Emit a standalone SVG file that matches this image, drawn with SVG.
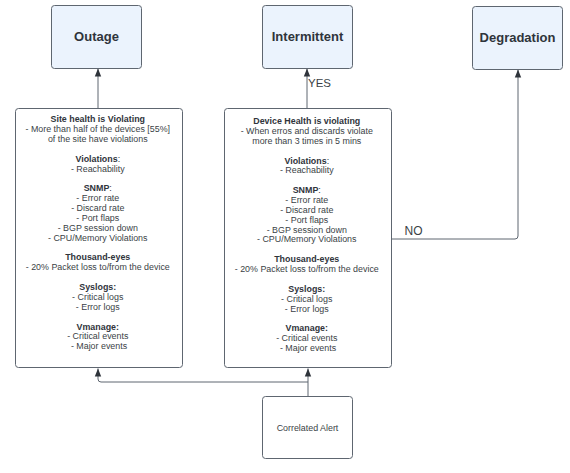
<svg xmlns="http://www.w3.org/2000/svg" width="570" height="473" viewBox="0 0 570 473">
<style>
.bg{fill:#ffffff}
.state{fill:#ebf3fd;stroke:#5e6670;stroke-width:1}
.card{fill:#ffffff;stroke:#5e6670;stroke-width:1}
.ttl{font-family:"Liberation Sans",Arial,sans-serif;font-size:13px;font-weight:bold;fill:#2f343b;text-anchor:middle}
.t{font-family:"Liberation Sans",Arial,sans-serif;font-size:8.9px;fill:#3a3f46;text-anchor:middle}
.b{font-weight:bold;fill:#2f343b}
.n{font-weight:normal}
.lbl{font-family:"Liberation Sans",Arial,sans-serif;fill:#3a3f46}
.edge{fill:none;stroke:#5e6670;stroke-width:1}
</style>
<defs>
<marker id="arr" markerUnits="userSpaceOnUse" markerWidth="9" markerHeight="8" viewBox="0 0 9 8" refX="8.5" refY="4" orient="auto">
<path d="M8.5,4 L0.5,0.8 L0.5,7.2 Z" fill="#2f343b"/>
</marker>
</defs>
<rect class="bg" x="0" y="0" width="570" height="473"/>

<g id="connectors">
<path class="edge" d="M98,108 L98,68.5" marker-end="url(#arr)"/>
<path class="edge" d="M307,108 L307,68.5" marker-end="url(#arr)"/>
<path class="edge" d="M391,239 L515,239 Q518,239 518,236 L518,69.5" marker-end="url(#arr)"/>
<path class="edge" d="M308,396 L308,368.5" marker-end="url(#arr)"/>
<path class="edge" d="M308,382 L101,382 Q98,382 98,379 L98,368.5" marker-end="url(#arr)"/>
<text class="lbl" x="308" y="87" font-size="11.5">YES</text>
<text class="lbl" x="404.5" y="234.5" font-size="12">NO</text>
</g>

<g id="outage">
<rect class="state" x="51.5" y="5.5" width="90" height="63" rx="3"/>
<text class="ttl" x="96.5" y="40.5">Outage</text>
</g>

<g id="intermittent">
<rect class="state" x="262.5" y="5.5" width="90" height="63" rx="3"/>
<text class="ttl" x="307.5" y="40.5" font-size="12.6">Intermittent</text>
</g>

<g id="degradation">
<rect class="state" x="472.5" y="6.5" width="90" height="63" rx="3"/>
<text class="ttl" x="517.5" y="41.5" font-size="12.6">Degradation</text>
</g>

<g id="site-health">
<rect class="card" x="15.5" y="108.5" width="167" height="259" rx="3"/>
<text class="t" x="99">
<tspan x="99" y="122.3" class="b">Site health is Violating</tspan>
<tspan x="99" y="132.2">- More than half of the devices [55%]</tspan>
<tspan x="99" y="142.0">of the site have violations</tspan>
<tspan x="99" y="161.8" class="b">Violations<tspan class="n">:</tspan></tspan>
<tspan x="99" y="171.6">- Reachability</tspan>
<tspan x="99" y="191.4" class="b">SNMP<tspan class="n">:</tspan></tspan>
<tspan x="99" y="201.2">- Error rate</tspan>
<tspan x="99" y="211.1">- Discard rate</tspan>
<tspan x="99" y="221.0">- Port flaps</tspan>
<tspan x="99" y="230.8">- BGP session down</tspan>
<tspan x="99" y="240.7">- CPU/Memory Violations</tspan>
<tspan x="99" y="260.4" class="b">Thousand-eyes</tspan>
<tspan x="99" y="270.3">- 20% Packet loss to/from the device</tspan>
<tspan x="99" y="290.0" class="b">Syslogs:</tspan>
<tspan x="99" y="299.9">- Critical logs</tspan>
<tspan x="99" y="309.8">- Error logs</tspan>
<tspan x="99" y="329.5" class="b">Vmanage:</tspan>
<tspan x="99" y="339.4">- Critical events</tspan>
<tspan x="99" y="349.2">- Major events</tspan>
</text>
</g>

<g id="device-health">
<rect class="card" x="224.5" y="108.5" width="167" height="259" rx="3"/>
<text class="t" x="308">
<tspan x="308" y="124.0" class="b">Device Health is violating</tspan>
<tspan x="308" y="133.9">- When erros and discards violate</tspan>
<tspan x="308" y="143.7">more than 3 times in 5 mins</tspan>
<tspan x="308" y="163.5" class="b">Violations<tspan class="n">:</tspan></tspan>
<tspan x="308" y="173.3">- Reachability</tspan>
<tspan x="308" y="193.1" class="b">SNMP<tspan class="n">:</tspan></tspan>
<tspan x="308" y="202.9">- Error rate</tspan>
<tspan x="308" y="212.8">- Discard rate</tspan>
<tspan x="308" y="222.7">- Port flaps</tspan>
<tspan x="308" y="232.5">- BGP session down</tspan>
<tspan x="308" y="242.4">- CPU/Memory Violations</tspan>
<tspan x="308" y="262.1" class="b">Thousand-eyes</tspan>
<tspan x="308" y="272.0">- 20% Packet loss to/from the device</tspan>
<tspan x="308" y="291.7" class="b">Syslogs:</tspan>
<tspan x="308" y="301.6">- Critical logs</tspan>
<tspan x="308" y="311.5">- Error logs</tspan>
<tspan x="308" y="331.2" class="b">Vmanage:</tspan>
<tspan x="308" y="341.1">- Critical events</tspan>
<tspan x="308" y="350.9">- Major events</tspan>
</text>
</g>

<g id="correlated-alert">
<rect class="card" x="262.5" y="396.5" width="90" height="62" rx="3"/>
<text class="t" x="307.5" y="430.5">Correlated Alert</text>
</g>
</svg>
